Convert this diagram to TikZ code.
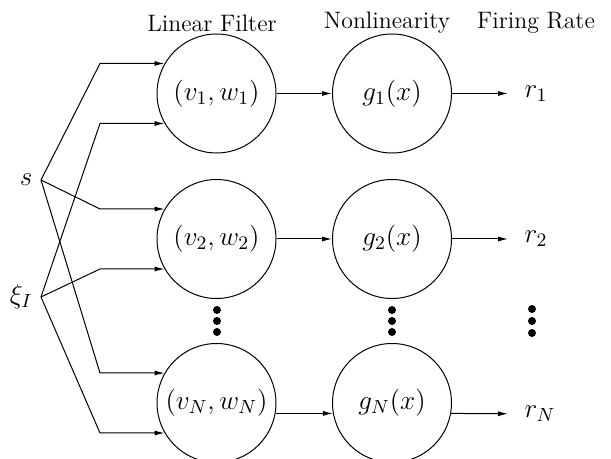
\RequirePackage{fix-cm}
\documentclass[tikz,border=0pt]{standalone}
\usepackage{fontspec}
\usetikzlibrary{arrows.meta}
\tikzset{
  mathtext/.style={font=\fontsize{13.6}{16}\selectfont},
  unit/.style={draw, circle, minimum size=59.5pt, inner sep=0pt, mathtext},
  rate/.style={inner xsep=8pt, mathtext},
  inlabel/.style={anchor=east, inner xsep=4pt, mathtext},
}
\begin{document}
\begin{tikzpicture}[x=0.5pt, y=-0.5pt, line width=0.5pt,
  font=\fontsize{11.9}{14}\selectfont,
  >={Latex[length=5pt,width=2.5pt]}]
\useasboundingbox (0,0) rectangle (611,459);

% column headings
\node (h1) at (212,23) {Linear Filter};
\node (h2) at (387,23) {Nonlinearity};
\node (h3) at (536,23) {Firing Rate};

% filter and nonlinearity stages
\node[unit] (f1) at (216.5,93.5) {$(v_1,w_1)$};
\node[unit] (g1) at (392,93.5)   {$g_1(x)$};
\node[unit] (f2) at (216.5,239)  {$(v_2,w_2)$};
\node[unit] (g2) at (392,239)    {$g_2(x)$};
\node[unit] (fN) at (216.5,403)  {$(v_N,w_N)$};
\node[unit] (gN) at (392,403)    {$g_N(x)$};

% outputs
\node[rate, anchor=west] (r1) at (508,93.5) {$r_1$};
\node[rate, anchor=west] (r2) at (508,239)  {$r_2$};
\node[rate, anchor=west] (rN) at (508,414)  {$r_N$};

\draw[->] (f1) -- (g1);
\draw[->] (g1) -- (r1);
\draw[->] (f2) -- (g2);
\draw[->] (g2) -- (r2);
\draw[->] (fN.-10.6) -- (gN.190.6);
\draw[->] (gN.-10.6) -- (rN);

% inputs
\node[inlabel] (s)  at (41,180) {$s$};
\node[inlabel] (xi) at (41,297) {$\xi_I$};
\coordinate (bx) at (100,0);
\foreach \t in {f1,f2,fN} {
  \draw[->] (s.east)  -- (\t.150 -| bx) -- (\t.150);
  \draw[->] (xi.east) -- (\t.210 -| bx) -- (\t.210);
}

% vertical ellipses
\foreach \x/\y in {217/310, 217/321, 217/332, 392/310, 392/321, 392/332,
                   532/309, 532/321, 532/333}
  \fill (\x,\y) circle (2pt);
\end{tikzpicture}
\end{document}
